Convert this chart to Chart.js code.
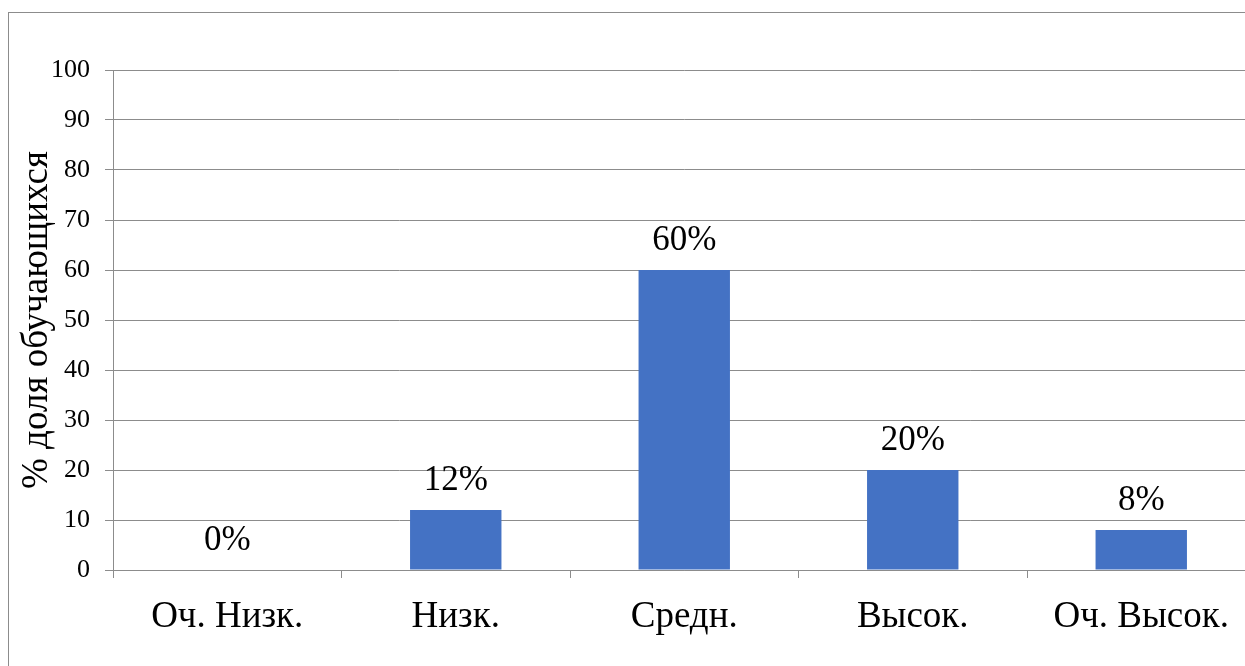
<!DOCTYPE html>
<html>
<head>
<meta charset="utf-8">
<script src="https://cdn.jsdelivr.net/npm/chart.js@4/dist/chart.umd.min.js"></script>
<style>
  html, body { margin: 0; padding: 0; overflow: hidden; background: #fff; }
  #wrap { position: absolute; left: 0; top: 0; width: 1270px; height: 700px; }
</style>
</head>
<body>
<div id="wrap"><canvas id="chart" width="1270" height="700"></canvas></div>
<script>
const categories = ['Оч. Низк.', 'Низк.', 'Средн.', 'Высок.', 'Оч. Высок.'];
const shares = [0, 12, 60, 20, 8];
const yTicks = [0, 10, 20, 30, 40, 50, 60, 70, 80, 90, 100];

const gridColor = '#8c8c8c';
const serif = '"Liberation Serif", "Times New Roman", serif';

// outer chart frame, cropped by the window like the reference
const framePlugin = {
  id: 'frame',
  beforeDraw(chart) {
    const ctx = chart.ctx;
    ctx.save();
    ctx.fillStyle = '#fff';
    ctx.fillRect(0, 0, chart.width, chart.height);
    ctx.strokeStyle = gridColor;
    ctx.lineWidth = 1;
    ctx.strokeRect(8.5, 12.5, 1300, 700);
    ctx.restore();
  }
};

// percent labels above each bar
const valueLabels = {
  id: 'valueLabels',
  afterDatasetsDraw(chart) {
    const ctx = chart.ctx;
    const meta = chart.getDatasetMeta(0);
    ctx.save();
    ctx.font = '35px ' + serif;
    ctx.fillStyle = '#000';
    ctx.textAlign = 'center';
    ctx.textBaseline = 'alphabetic';
    meta.data.forEach((bar, i) => {
      ctx.fillText(shares[i] + '%', bar.x, bar.y - 20);
    });
    ctx.restore();
  }
};

new Chart(document.getElementById('chart'), {
  type: 'bar',
  data: {
    labels: categories,
    datasets: [{
      data: shares,
      backgroundColor: '#4472C4',
      categoryPercentage: 1,
      barPercentage: 0.4
    }]
  },
  options: {
    responsive: false,
    animation: false,
    layout: { padding: { left: 0, top: 70, right: 1270 - 1255.5, bottom: 0 } },
    plugins: { legend: { display: false }, tooltip: { enabled: false } },
    scales: {
      x: {
        offset: true,
        grid: { display: true, drawOnChartArea: false, drawTicks: true, tickLength: 8, offset: true, color: gridColor },
        border: { display: true, color: gridColor },
        ticks: { color: '#000', font: { family: serif, size: 37 }, padding: 17, maxRotation: 0 },
        afterFit(scale) { scale.height = 700 - 570; }
      },
      y: {
        min: 0,
        max: 100,
        afterBuildTicks(scale) { scale.ticks = yTicks.map(v => ({ value: v })); },
        grid: { color: gridColor, tickLength: 8, drawTicks: true },
        border: { display: true, color: gridColor },
        ticks: { color: '#000', font: { family: serif, size: 26 }, padding: 15 },
        title: {
          display: true,
          text: '% доля обучающихся',
          color: '#000',
          font: { family: serif, size: 37 },
          padding: { top: 15, bottom: 0 }
        },
        afterFit(scale) { scale.width = 113; }
      }
    }
  },
  plugins: [framePlugin, valueLabels]
});
</script>
</body>
</html>
